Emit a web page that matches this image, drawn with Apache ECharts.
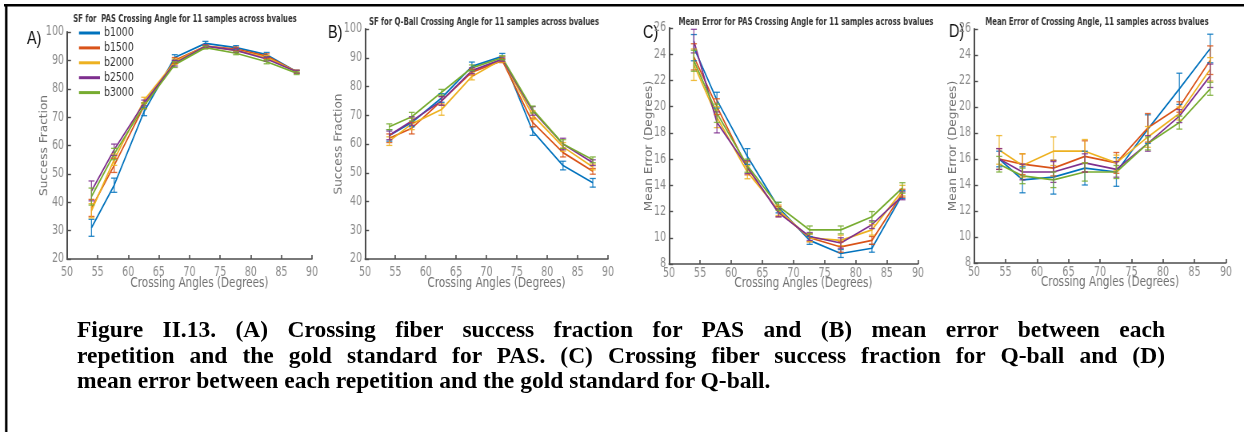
<!DOCTYPE html>
<html><head><meta charset="utf-8">
<script src="https://cdn.jsdelivr.net/npm/echarts@6/dist/echarts.min.js"></script>
<style>
html,body{margin:0;padding:0;background:#fff;overflow:hidden;}
#wrap{position:relative;width:1244px;height:432px;overflow:hidden;}
#chart{position:absolute;left:0;top:0;width:1555px;height:432px;transform:scaleX(0.8);transform-origin:0 0;}
#cap{position:absolute;left:77px;top:317px;width:1088px;font-family:'Liberation Serif','Times New Roman',serif;font-weight:bold;font-size:23.5px;line-height:25.5px;color:#000;}
#cap div{white-space:nowrap;}
#cap .j{text-align:justify;text-align-last:justify;white-space:normal;}
</style></head>
<body><div id="wrap"><div id="chart"></div>
<div id="cap"><div class="j">Figure II.13. (A) Crossing fiber success fraction for PAS and (B) mean error between each</div><div class="j">repetition and the gold standard for PAS. (C) Crossing fiber success fraction for Q-ball and (D)</div><div>mean error between each repetition and the gold standard for Q-ball.</div></div>
</div>
<script>
const angles = [54, 57.7, 62.6, 67.6, 72.6, 77.6, 82.6, 87.5];
const bvalues = ['b1000', 'b1500', 'b2000', 'b2500', 'b3000'];
const colors = ['#0072BD', '#D95319', '#EDB120', '#7E2F8E', '#77AC30'];
const titles = ['SF for  PAS Crossing Angle for 11 samples across bvalues',
  'SF for Q-Ball Crossing Angle for 11 samples across bvalues',
  'Mean Error for PAS Crossing Angle for 11 samples across bvalues',
  'Mean Error of Crossing Angle, 11 samples across bvalues'];
const panelLabels = ['A)', 'B)', 'C)', 'D)'];
const yNames = ['Success Fraction', 'Success Fraction', 'Mean Error (Degrees)', 'Mean Error (Degrees)'];
const xName = 'Crossing Angles (Degrees)';

// Panel A: SF PAS
const A_b1000 = [31, 46, 72, 91, 96, 94.5, 92, 86];
const A_b1500 = [38, 53, 74, 90, 95, 94, 91.5, 86];
const A_b2000 = [37, 55, 76, 89.5, 95, 93.5, 91, 86];
const A_b2500 = [44, 58.5, 75, 89, 95, 93.5, 90.5, 86];
const A_b3000 = [42, 57, 74, 88.5, 94.5, 92.5, 89.5, 85.5];
const A_err1000 = [3, 2.5, 1.5, 1, 0.7, 0.7, 0.8, 0.5];
const A_err1500 = [3, 2.5, 1, 1, 0.5, 0.7, 0.8, 0.5];
const A_err2000 = [2.5, 2, 1, 1, 0.5, 0.7, 0.7, 0.5];
const A_err2500 = [3.5, 2, 1, 1, 0.5, 0.7, 0.7, 0.5];
const A_err3000 = [3, 2, 1, 1, 0.5, 0.5, 0.7, 0.5];
// Panel B: SF Q-Ball
const B_b1000 = [63, 67.5, 76, 87, 90.5, 64.5, 52.5, 46.5];
const B_b1500 = [62, 65.5, 75, 85, 89, 67.5, 57, 50.5];
const B_b2000 = [61, 67, 72, 83.5, 89.5, 70, 59, 52];
const B_b2500 = [63, 68, 75, 85.5, 89.5, 71.5, 60, 53.5];
const B_b3000 = [66, 69.5, 78, 86.5, 90, 72, 60, 54.5];
const B_err1000 = [2, 1.5, 1.5, 1.5, 1, 1.5, 1.5, 1.5];
const B_err1500 = [1.5, 2, 1.5, 1, 0.7, 1.5, 1.5, 1];
const B_err2000 = [1.5, 2, 2, 1.2, 1, 1.5, 1.5, 1];
const B_err2500 = [1.5, 1.5, 1.5, 1, 0.7, 1.5, 2, 1];
const B_err3000 = [1, 1.5, 1, 1, 0.7, 1.2, 1.5, 1];
// Panel C: Mean error PAS
const C_b1000 = [24.5, 20.5, 16.2, 12.3, 9.8, 8.8, 9.2, 13.3];
const C_b1500 = [23.8, 20, 15.3, 12, 10, 9.3, 9.8, 13.4];
const C_b2000 = [23.2, 19.2, 15, 12.1, 10, 9.8, 10.6, 13.6];
const C_b2500 = [25, 18.8, 15.4, 11.9, 10.1, 9.6, 11, 13.2];
const C_b3000 = [23.5, 19.5, 15.5, 12.4, 10.6, 10.6, 11.6, 13.8];
const C_err1000 = [1, 0.6, 0.6, 0.4, 0.3, 0.3, 0.3, 0.3];
const C_err1500 = [1, 0.6, 0.5, 0.4, 0.3, 0.4, 0.3, 0.3];
const C_err2000 = [1.2, 0.8, 0.5, 0.4, 0.3, 0.4, 0.4, 0.4];
const C_err2500 = [0.9, 0.8, 0.5, 0.3, 0.3, 0.4, 0.3, 0.3];
const C_err3000 = [0.8, 0.7, 0.5, 0.3, 0.3, 0.3, 0.4, 0.4];
// Panel D: Mean error Q-Ball
const D_b1000 = [16, 14.4, 14.6, 15.3, 15, 18.3, 21.4, 24.5];
const D_b1500 = [16, 15.6, 15.3, 16.2, 15.7, 18.4, 20, 23.6];
const D_b2000 = [16.7, 15.5, 16.6, 16.6, 15.7, 17.7, 19.5, 22.9];
const D_b2500 = [16, 15, 15, 15.7, 15.2, 17.2, 19.3, 22.4];
const D_b3000 = [15.6, 14.7, 14.4, 15, 15, 17.2, 18.8, 21.4];
const D_err1000 = [0.6, 1, 1.3, 1.3, 1.1, 1.1, 1.2, 1.1];
const D_err1500 = [0.8, 0.8, 0.6, 1.2, 0.8, 1.1, 0.4, 1.1];
const D_err2000 = [1.1, 0.9, 1.1, 0.9, 0.6, 0.8, 0.5, 0.9];
const D_err2500 = [0.8, 0.6, 0.8, 0.7, 0.6, 0.6, 0.5, 0.9];
const D_err3000 = [0.6, 0.6, 0.6, 0.7, 0.5, 0.5, 0.5, 0.5];

const panelValues = [
  [A_b1000, A_b1500, A_b2000, A_b2500, A_b3000],
  [B_b1000, B_b1500, B_b2000, B_b2500, B_b3000],
  [C_b1000, C_b1500, C_b2000, C_b2500, C_b3000],
  [D_b1000, D_b1500, D_b2000, D_b2500, D_b3000]];
const panelErrors = [
  [A_err1000, A_err1500, A_err2000, A_err2500, A_err3000],
  [B_err1000, B_err1500, B_err2000, B_err2500, B_err3000],
  [C_err1000, C_err1500, C_err2000, C_err2500, C_err3000],
  [D_err1000, D_err1500, D_err2000, D_err2500, D_err3000]];
const yRanges = [[20, 100, 10], [20, 100, 10], [8, 26, 2], [8, 26, 2]];

// the chart canvas is drawn wider and squeezed horizontally (like the source figure)
const K = 0.8;
const sx = v => v / K;
const FONT = "'DejaVu Sans Condensed','Liberation Sans',sans-serif";
const grids = [
  {left: sx(67), top: 32, width: sx(245), height: 227},
  {left: sx(365), top: 29, width: sx(243), height: 230},
  {left: sx(669), top: 28, width: sx(249), height: 236},
  {left: sx(974), top: 29, width: sx(252), height: 234}];
const yNameGap = [sx(17), sx(21), sx(14), sx(15)];
const xNameGap = [17, 17, 12, 12];
const xLabelMargin = [7.5, 7.5, 3.5, 3.5];
const titlePos = [[185, 14], [484, 17], [806, 17], [1097, 17]];
const labelPos = [[27, 30], [328, 24], [643, 24], [949, 23]];

const lineCol = '#4d4d4d';
const xAxis = [], yAxis = [], series = [], title = [], graphic = [];
for (let p = 0; p < 4; p++) {
  xAxis.push({type: 'value', gridIndex: p, min: 50, max: 90, interval: 5,
    axisLine: {lineStyle: {color: lineCol, width: 1.6}},
    axisTick: {inside: true, length: 4, lineStyle: {color: lineCol, width: 1.6}},
    splitLine: {show: false},
    axisLabel: {color: '#8a8a8a', fontSize: 13.2, fontFamily: FONT, margin: xLabelMargin[p]},
    name: xName, nameLocation: 'middle', nameGap: xNameGap[p], nameMoveOverlap: false,
    nameTextStyle: {color: '#717171', fontSize: 14.5, fontFamily: FONT, padding: [0, 0, 0, sx(20)]}});
  yAxis.push({type: 'value', gridIndex: p, min: yRanges[p][0], max: yRanges[p][1], interval: yRanges[p][2],
    axisLine: {show: true, lineStyle: {color: lineCol, width: 2}},
    axisTick: {show: true, inside: true, length: sx(4), lineStyle: {color: lineCol, width: 1.4}},
    splitLine: {show: false},
    axisLabel: {color: '#8a8a8a', fontSize: 13.2, fontFamily: FONT, margin: sx(3)},
    name: yNames[p], nameLocation: 'middle', nameGap: yNameGap[p], nameMoveOverlap: false,
    nameTextStyle: {color: '#717171', fontSize: 13.5, fontFamily: FONT}});
  title.push({text: titles[p], left: sx(titlePos[p][0]), top: titlePos[p][1], textAlign: 'center', padding: 0,
    textStyle: {fontSize: 9.6, fontWeight: 'bold', color: '#333', fontFamily: FONT}});
  graphic.push({type: 'text', left: sx(labelPos[p][0]), top: labelPos[p][1],
    style: {text: panelLabels[p], fontSize: 18, fill: '#111', fontFamily: "'Liberation Sans',Arial,sans-serif"}});
  for (let s = 0; s < 5; s++) {
    const vals = panelValues[p][s], errs = panelErrors[p][s];
    series.push({type: 'line', name: bvalues[s], xAxisIndex: p, yAxisIndex: p,
      data: angles.map((a, i) => [a, vals[i]]), showSymbol: false, symbol: 'none',
      lineStyle: {width: 1.7, color: colors[s]}, itemStyle: {color: colors[s]}, z: 3, animation: false});
    series.push({type: 'custom', name: bvalues[s], xAxisIndex: p, yAxisIndex: p, z: 4, animation: false,
      data: angles.map((a, i) => [a, vals[i] - errs[i], vals[i] + errs[i]]),
      renderItem: (params, api) => {
        const lo = api.coord([api.value(0), api.value(1)]);
        const hi = api.coord([api.value(0), api.value(2)]);
        const w = sx(3);
        const st = {stroke: colors[s], lineWidth: 1.3, opacity: 0.85};
        return {type: 'group', children: [
          {type: 'line', shape: {x1: lo[0], y1: lo[1], x2: hi[0], y2: hi[1]}, style: st},
          {type: 'line', shape: {x1: lo[0] - w, y1: lo[1], x2: lo[0] + w, y2: lo[1]}, style: st},
          {type: 'line', shape: {x1: hi[0] - w, y1: hi[1], x2: hi[0] + w, y2: hi[1]}, style: st}]};
      }});
  }
}
// figure border (top and left)
graphic.push({type: 'rect', shape: {x: sx(4), y: 4, width: sx(1240), height: 2.5}, style: {fill: '#000'}});
graphic.push({type: 'rect', shape: {x: sx(5), y: 4, width: sx(2.5), height: 428}, style: {fill: '#000'}});

const chart = echarts.init(document.getElementById('chart'), null, {renderer: 'canvas'});
chart.setOption({
  animation: false,
  title, grid: grids, xAxis, yAxis, series, graphic,
  legend: {data: bvalues.map((b, i) => ({name: b, itemStyle: {color: colors[i]}})),
    orient: 'vertical', left: sx(79), top: 26.5, padding: 0, itemWidth: sx(21), itemHeight: 3, itemGap: 1.9, icon: 'rect',
    selectedMode: false,
    textStyle: {fontSize: 13, lineHeight: 12.5, color: '#333', fontFamily: FONT}}
});
</script></body></html>
